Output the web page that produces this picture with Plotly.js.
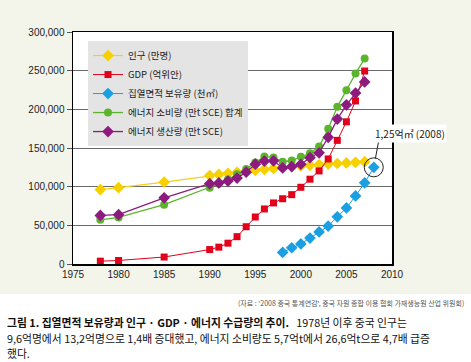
<!DOCTYPE html>
<html>
<head>
<meta charset="utf-8">
<script src="https://cdn.plot.ly/plotly-3.0.1.min.js"></script>
<style>
html,body{margin:0;padding:0;background:#fff;}
#chart{width:471px;height:362px;}
</style>
</head>
<body>
<div id="chart"></div>
<script>
// ---- data ----
const popYears = [1978,1980,1985,1990,1991,1992,1993,1994,1995,1996,1997,1998,1999,2000,2001,2002,2003,2004,2005,2006,2007];
const popVals  = [96259,98705,105851,114333,115823,117171,118517,119850,121121,122389,123626,124761,125786,126743,127627,128453,129227,129988,130756,131448,132129];

const gdpYears = [1978,1980,1985,1990,1991,1992,1993,1994,1995,1996,1997,1998,1999,2000,2001,2002,2003,2004,2005,2006,2007];
const gdpVals  = [3645,4546,9016,18668,21782,26924,35334,48198,60794,71177,78973,84402,89677,99215,109655,120333,135823,159878,183868,210871,249530];

const heatYears = [1998,1999,2000,2001,2002,2003,2004,2005,2006,2007,2008];
const heatVals  = [15000,21000,26000,33500,41500,49000,61000,72500,88000,105000,125000];

const consYears = [1978,1980,1985,1990,1991,1992,1993,1994,1995,1996,1997,1998,1999,2000,2001,2002,2003,2004,2005,2006,2007];
const consVals  = [57144,60275,76682,98703,103783,109170,115993,122737,131176,138948,137798,132214,133831,138553,143199,151797,174990,203227,224682,246270,265583];

const prodYears = [1978,1980,1985,1990,1991,1992,1993,1994,1995,1996,1997,1998,1999,2000,2001,2002,2003,2004,2005,2006,2007];
const prodVals  = [62770,63735,85546,103922,104844,107256,111059,118729,129034,133032,133460,124250,125935,128978,137445,143810,163842,187341,205876,221056,235415];

const seriesNames = ['인구 (만명)','GDP (억위안)','집열면적 보유량 (천㎡)','에너지 소비량 (만t SCE) 합계','에너지 생산량 (만t SCE)'];
const xTicks = [1975,1980,1985,1990,1995,2000,2005,2010];
const yTicks = [0,50000,100000,150000,200000,250000,300000];
const calloutText = '1,25억㎡ (2008)';
const sourceText = "(자료 : '2008 중국 통계연감', 중국 자원 종합 이용 협회 가재생능원 산업 위원회)";
const captionLine1 = '<b>그림 1. 집열면적 보유량과 인구 · GDP · 에너지 수급량의 추이.</b>   1978년 이후 중국 인구는';
const captionLine2 = '9,6억명에서 13,2억명으로 1,4배 증대했고, 에너지 소비량도 5,7억t에서 26,6억t으로 4,7배 급증';
const captionLine3 = '했다.';

// ---- traces ----
const traces = [
  {x: popYears, y: popVals, name: seriesNames[0], type:'scatter', mode:'lines+markers',
   line:{color:'#f3cf1c', width:1.2}, marker:{symbol:'diamond', size:9, color:'#f7d000'}},
  {x: gdpYears, y: gdpVals, name: seriesNames[1], type:'scatter', mode:'lines+markers',
   line:{color:'#e2001a', width:1}, marker:{symbol:'square', size:7, color:'#e2001a'}},
  {x: heatYears, y: heatVals, name: seriesNames[2], type:'scatter', mode:'lines+markers',
   line:{color:'#1aa0e2', width:1}, marker:{symbol:'diamond', size:9, color:'#1aa0e2'}},
  {x: consYears, y: consVals, name: seriesNames[3], type:'scatter', mode:'lines+markers',
   line:{color:'#5ab52c', width:1.3}, marker:{symbol:'circle', size:8, color:'#5ab52c'}},
  {x: prodYears, y: prodVals, name: seriesNames[4], type:'scatter', mode:'lines+markers',
   line:{color:'#8c1a7f', width:1.3}, marker:{symbol:'diamond', size:9, color:'#8c1a7f'}}
];

const lastHX = heatYears[heatYears.length-1];
const lastHY = heatVals[heatVals.length-1];

const tickFont = {family:'Liberation Sans, Arial, sans-serif', size:10, color:'#222'};
const korFont = 'Noto Sans CJK KR, sans-serif';

const layout = {
  width:471, height:362,
  margin:{l:73, r:79, t:32, b:98, pad:0},
  paper_bgcolor:'#ffffff',
  plot_bgcolor:'rgba(0,0,0,0)',
  showlegend:true,
  legend:{x:0.047, y:0.961, xanchor:'left', yanchor:'top', bgcolor:'#e4e4e4',
          borderwidth:0, font:{family:korFont, size:9.5, color:'#222'}, tracegroupgap:0},
  xaxis:{range:[1975,2010], tickvals:xTicks, ticktext:xTicks.map(String), ticks:'',
         showgrid:false, zeroline:false, showline:true, mirror:true,
         linecolor:'#000', linewidth:1.5, tickfont:tickFont, fixedrange:true},
  yaxis:{range:[0,300000], tickvals:yTicks, tickformat:',d', ticks:'outside', ticklen:5,
         tickcolor:'#555', tickwidth:1, showgrid:true, gridcolor:'#6a6a6a', gridwidth:1,
         zeroline:false, showline:true, mirror:true, linecolor:'#000', linewidth:1.5,
         tickfont:tickFont, fixedrange:true},
  shapes:[
    {type:'rect', xref:'paper', yref:'paper', x0:-0.25, x1:1.3, y0:-0.129, y1:1.2,
     fillcolor:'#f3f5ea', line:{width:0}, layer:'below'},
    {type:'rect', xref:'paper', yref:'paper', x0:0, x1:1, y0:0, y1:1,
     fillcolor:'#ffffff', line:{width:0}, layer:'below'},
    {type:'circle', xref:'x', yref:'y', xsizemode:'pixel', ysizemode:'pixel',
     xanchor:lastHX, yanchor:lastHY, x0:-9.5, x1:9.5, y0:-9.5, y1:9.5,
     line:{color:'#222', width:1}, fillcolor:'rgba(0,0,0,0)'}
  ],
  annotations:[
    {x:lastHX, y:lastHY, xref:'x', yref:'y', text:'', showarrow:true, arrowhead:0,
     arrowwidth:1, arrowcolor:'#222', ax:5, ay:-27, standoff:9},
    {x:lastHX, y:lastHY, xref:'x', yref:'y', text:calloutText, showarrow:false,
     xshift:36, yshift:34, bgcolor:'#ffffff', font:{family:korFont, size:10, color:'#222'}},
    {x:1.232, y:-0.168, xref:'paper', yref:'paper', xanchor:'right', yanchor:'middle',
     text:sourceText, showarrow:false, font:{family:korFont, size:7, color:'#555'}},
    {x:-0.2132, y:-0.25, xref:'paper', yref:'paper', xanchor:'left', yanchor:'middle',
     text:captionLine1, showarrow:false, font:{family:korFont, size:10.8, color:'#111'}},
    {x:-0.2132, y:-0.319, xref:'paper', yref:'paper', xanchor:'left', yanchor:'middle',
     text:captionLine2, showarrow:false, font:{family:korFont, size:10.8, color:'#111'}},
    {x:-0.2132, y:-0.384, xref:'paper', yref:'paper', xanchor:'left', yanchor:'middle',
     text:captionLine3, showarrow:false, font:{family:korFont, size:10.8, color:'#111'}}
  ]
};

Plotly.newPlot('chart', traces, layout, {displayModeBar:false, staticPlot:true});
</script>
</body>
</html>
